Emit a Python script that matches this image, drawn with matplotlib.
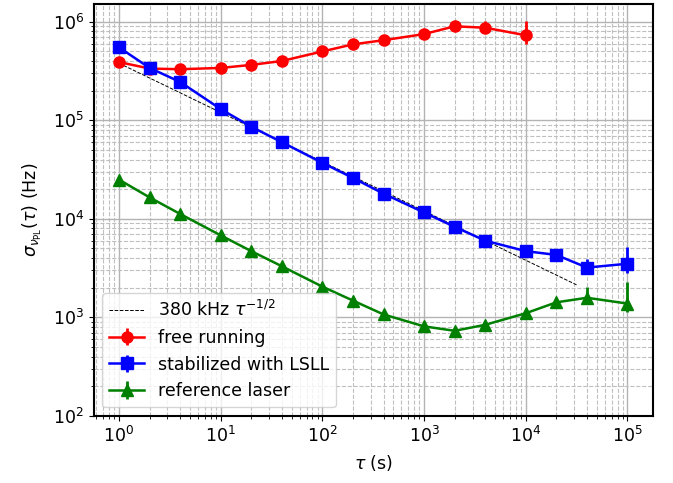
import numpy as np
import matplotlib
matplotlib.use("Agg")
import matplotlib.pyplot as plt

# averaging times (s)
tau_free = [1, 2, 4, 10, 20, 40, 100, 200, 400, 1000, 2000, 4000, 10000]
tau_long = [1, 2, 4, 10, 20, 40, 100, 200, 400, 1000, 2000, 4000, 10000,
            20000, 40000, 100000]

# Allan deviations (Hz), with lower / upper error bars
sig_free = [3.9e5, 3.35e5, 3.3e5, 3.4e5, 3.65e5, 4.0e5, 5.0e5, 5.9e5,
            6.5e5, 7.5e5, 9.0e5, 8.7e5, 7.3e5]
err_free_lo = [0, 0, 0, 0, 0, 0, 0, 0, 0, 0, 0, 1.0e5, 1.3e5]
err_free_hi = [0, 0, 0, 0, 0, 0, 0, 0, 0, 0, 0, 1.6e5, 3.0e5]

sig_lsll = [5.5e5, 3.4e5, 2.45e5, 1.3e5, 8.6e4, 6.0e4, 3.7e4, 2.6e4,
            1.8e4, 1.16e4, 8.3e3, 6.0e3, 4.7e3, 4.3e3, 3.2e3, 3.5e3]
err_lsll_lo = [0, 0, 0, 0, 0, 0, 0, 0, 0, 0, 0, 0, 0, 0, 4e2, 6.7e2]
err_lsll_hi = [0, 0, 0, 0, 0, 0, 0, 0, 0, 0, 0, 0, 0, 0, 7e2, 1.7e3]

sig_ref = [2.5e4, 1.65e4, 1.12e4, 6.8e3, 4.7e3, 3.3e3, 2.05e3, 1.48e3,
           1.07e3, 8.1e2, 7.3e2, 8.4e2, 1.1e3, 1.42e3, 1.58e3, 1.38e3]
err_ref_lo = [0, 0, 0, 0, 0, 0, 0, 0, 0, 0, 0, 0, 0, 1.0e2, 1.5e2, 2.6e2]
err_ref_hi = [0, 0, 0, 0, 0, 0, 0, 0, 0, 0, 0, 0, 0, 1.2e2, 4.5e2, 8.8e2]

fit_amp = 3.8e5
fit_tau = np.logspace(0, 4.5, 50)

fig, ax = plt.subplots(figsize=(6.73, 4.83), dpi=100)
fig.subplots_adjust(left=0.139, right=0.970, top=0.992, bottom=0.139)

ax.plot(fit_tau, fit_amp / np.sqrt(fit_tau), "k--", lw=0.7,
        label=r"380 kHz $\tau^{-1/2}$")
ax.errorbar(tau_free, sig_free, yerr=[err_free_lo, err_free_hi],
            color="red", marker="o", ms=8, lw=1.8, elinewidth=2,
            label="free running")
ax.errorbar(tau_long, sig_lsll, yerr=[err_lsll_lo, err_lsll_hi],
            color="blue", marker="s", ms=8, lw=1.8, elinewidth=2,
            label="stabilized with LSLL")
ax.errorbar(tau_long, sig_ref, yerr=[err_ref_lo, err_ref_hi],
            color="green", marker="^", ms=8, lw=1.8, elinewidth=2,
            label="reference laser")

ax.set_xscale("log")
ax.set_yscale("log")
ax.set_xlim(10 ** -0.25, 10 ** 5.25)
ax.set_ylim(1e2, 1.52e6)
ax.grid(which="major", ls="-", color="0.7", lw=1)
ax.grid(which="minor", ls="--", color="0.75", lw=0.8)
for sp in ax.spines.values():
    sp.set_linewidth(1.5)
ax.tick_params(labelsize=12.5)
ax.set_xlabel(r"$\tau$ (s)", fontsize=12.5, labelpad=5)
ax.set_ylabel(r"$\sigma_{\nu_{\rm PL}}(\tau)$ (Hz)", fontsize=12.5,
              labelpad=6)
ax.legend(loc="lower left", fontsize=12.5)

fig.savefig("out.png", dpi=100)
